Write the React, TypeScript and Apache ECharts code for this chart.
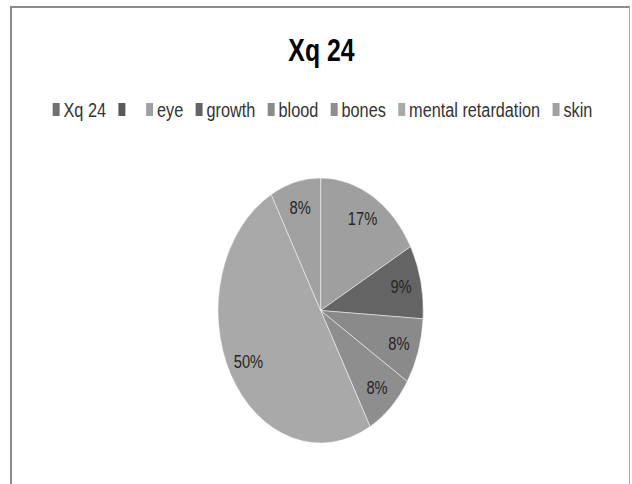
import React, { useEffect, useRef } from 'react';
import * as echarts from 'echarts';

// Chart content
const TITLE = 'Xq 24';
const categories = ['Xq 24', ' ', 'eye', 'growth', 'blood', 'bones', 'mental retardation', 'skin'];
const values = [0, 0, 17, 9, 8, 8, 50, 8];
const colors = ['#707070', '#5a5a5a', '#9f9f9f', '#646464', '#8a8a8a', '#8e8e8e', '#a9a9a9', '#a1a1a1'];

// The chart is laid out on a wider canvas and squeezed horizontally,
// which turns the round pie into a tall ellipse.
const WIDTH = 816;
const HEIGHT = 484;
const SCALE_X = 632 / WIDTH;
const CENTER: [number, number] = [414, 310.5];
const RADIUS = 132.5;
const FONT = '"Liberation Sans", Arial, sans-serif';

export default function App() {
  const ref = useRef<HTMLDivElement>(null);

  useEffect(() => {
    if (!ref.current) return;
    const chart = echarts.init(ref.current, undefined, { renderer: 'svg' });

    const sliceData = categories.map((name, i) => ({
      name,
      value: values[i],
      itemStyle: { color: colors[i] },
    }));

    const labelData = categories.map((name, i) => ({
      name,
      value: values[i],
      label: { show: values[i] > 0 },
    }));

    chart.setOption({
      animation: false,
      backgroundColor: 'transparent',
      title: {
        text: TITLE,
        left: 410,
        textAlign: 'center',
        top: 29,
        textStyle: { fontFamily: FONT, fontSize: 32, fontWeight: 'bold', color: '#000' },
      },
      legend: {
        left: 63,
        top: 94,
        icon: 'rect',
        itemWidth: 9,
        itemHeight: 13,
        itemGap: 16,
        selectedMode: false,
        data: categories,
        itemStyle: { borderWidth: 0 },
        textStyle: { fontFamily: FONT, fontSize: 21, color: '#333' },
      },
      series: [
        {
          type: 'pie',
          center: CENTER,
          radius: RADIUS,
          startAngle: 90,
          clockwise: true,
          silent: true,
          label: { show: false },
          labelLine: { show: false },
          itemStyle: { borderColor: 'rgba(255,255,255,0.55)', borderWidth: 1 },
          emphasis: { disabled: true },
          data: sliceData,
        },
        {
          // label ring: places the percentage labels toward the rim
          type: 'pie',
          center: CENTER,
          radius: [RADIUS * 0.56, RADIUS],
          startAngle: 90,
          clockwise: true,
          silent: true,
          itemStyle: { color: 'rgba(0,0,0,0)', borderWidth: 0 },
          label: {
            show: true,
            position: 'inside',
            formatter: '{d}%',
            fontFamily: FONT,
            fontSize: 19,
            color: '#262626',
          },
          labelLine: { show: false },
          emphasis: { disabled: true },
          data: labelData,
        },
      ],
    });

    return () => chart.dispose();
  }, []);

  return (
    <div
      style={{
        position: 'absolute',
        left: 0,
        top: 0,
        width: 632,
        height: 484,
        overflow: 'hidden',
        background: '#fff',
      }}
    >
      <div
        style={{
          position: 'absolute',
          left: 10,
          top: 6,
          width: 617,
          height: 520,
          borderTop: '2px solid #8c8c8c',
          borderLeft: '2px solid #8c8c8c',
          borderRight: '1px solid #a8a8a8',
        }}
      />
      <div
        ref={ref}
        style={{
          position: 'absolute',
          left: 0,
          top: 0,
          width: WIDTH,
          height: HEIGHT,
          transform: `scaleX(${SCALE_X})`,
          transformOrigin: '0 0',
        }}
      />
    </div>
  );
}
